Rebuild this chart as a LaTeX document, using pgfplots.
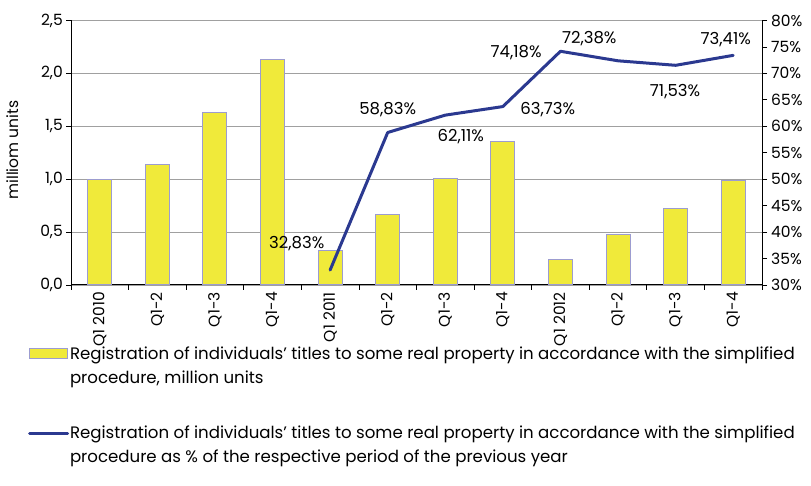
\documentclass[border=0pt]{standalone}
\usepackage{pgfplots}
\pgfplotsset{compat=1.18}
\usepackage{fontspec}
\setmainfont{Poppins}
\definecolor{baryellow}{HTML}{F0EA3A}
\definecolor{baredge}{HTML}{9C9CD0}
\definecolor{lineblue}{HTML}{2B3990}
\definecolor{gridgray}{HTML}{A0A0A0}
\begin{document}
\begin{tikzpicture}[x=1pt,y=1pt]
\useasboundingbox (0,0) rectangle (811,486);
\pgfplotsset{
  every axis/.append style={
    scale only axis, width=691pt, height=264.5pt,
    at={(71pt,201pt)}, anchor=south west,
    xmin=-0.5, xmax=11.5,
    font=\fontsize{15.5}{18}\selectfont,
    tick style={black, line width=0.8pt},
  }
}
\begin{axis}[
  ymin=0, ymax=2.5,
  axis x line*=bottom, axis y line*=left,
  axis line style={black, line width=1pt, -},
  ytick={0,0.5,1,1.5,2,2.5},
  yticklabels={{0,0},{0,5},{1,0},{1,5},{2,0},{2,5}},
  y tick label style={inner sep=3pt},
  ymajorgrids, grid style={gridgray, line width=0.8pt},
  xtick={0,...,11},
  xticklabels={Q1 2010,Q1-2,Q1-3,Q1-4,Q1 2011,Q1-2,Q1-3,Q1-4,Q1 2012,Q1-2,Q1-3,Q1-4},
  x tick label style={rotate=90, anchor=east, inner sep=2pt},
  major x tick style={draw=none},
  minor xtick={-0.5,0.5,...,11.5},
  minor tick length=5pt, major tick length=5pt,
  tick align=outside,
  ylabel={milliom units},
  ylabel style={at={(axis description cs:-0.085,0.51)}, anchor=center, rotate=0},
]
\addplot[ybar, bar width=24pt, fill=baryellow, draw=baredge, line width=1pt]
coordinates {(0,1.00) (1,1.14) (2,1.63) (3,2.13) (4,0.33) (5,0.67) (6,1.01) (7,1.36) (8,0.24) (9,0.48) (10,0.72) (11,0.99)};
\end{axis}
\begin{axis}[
  ymin=30, ymax=80,
  axis x line=none, axis y line*=right,
  axis line style={black, line width=1pt, -},
  ytick={30,35,...,80},
  yticklabels={30\%,35\%,40\%,45\%,50\%,55\%,60\%,65\%,70\%,75\%,80\%},
  y tick label style={inner sep=4pt},
  tick align=outside, major tick length=5pt,
  legend style={at={(axis description cs:-0.0625,-0.229)}, anchor=north west, draw=none, fill=none,
    font=\fontsize{16.6}{24}\selectfont, row sep=39pt, inner sep=0pt,
    nodes={inner sep=1pt},
    cells={anchor=west, align=left}},
  legend cell align=left,
]
\addlegendimage{legend image code/.code={\draw[fill=baryellow, draw=baredge, line width=1pt] (0pt,7pt) rectangle (38pt,17pt);}}
\addlegendentry{Registration of individuals' titles to some real property in accordance with the simplified\\procedure, million units}
\addplot[lineblue, line width=3pt, line join=round, line cap=round,
  legend image code/.code={\draw[lineblue, line width=3pt] (0pt,12pt) -- (38pt,12pt);}]
coordinates {(4,32.83) (5,58.83) (6,62.11) (7,63.73) (8,74.18) (9,72.38) (10,71.53) (11,73.41)};
\addlegendentry{Registration of individuals' titles to some real property in accordance with the simplified\\procedure as \% of the respective period of the previous year}
\node[font=\fontsize{16.5}{18}\selectfont] at (axis cs:3.42,37.75) {32,83\%};
\node[font=\fontsize{16.5}{18}\selectfont] at (axis cs:5.0,63.1) {58,83\%};
\node[font=\fontsize{16.5}{18}\selectfont] at (axis cs:6.27,58.0) {62,11\%};
\node[font=\fontsize{16.5}{18}\selectfont] at (axis cs:7.23,74.0) {74,18\%};
\node[font=\fontsize{16.5}{18}\selectfont] at (axis cs:7.78,63.1) {63,73\%};
\node[font=\fontsize{16.5}{18}\selectfont] at (axis cs:8.5,76.5) {72,38\%};
\node[font=\fontsize{16.5}{18}\selectfont] at (axis cs:9.99,66.5) {71,53\%};
\node[font=\fontsize{16.5}{18}\selectfont] at (axis cs:10.87,76.3) {73,41\%};
\end{axis}
\end{tikzpicture}
\end{document}
